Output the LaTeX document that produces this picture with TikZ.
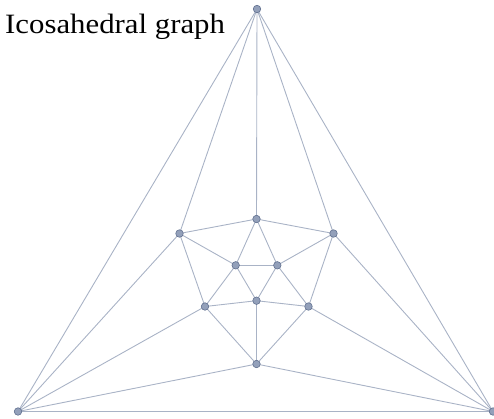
\documentclass[tikz,border=0pt]{standalone}
\usepackage{fontspec}
\setmainfont{Liberation Serif}
\definecolor{edgecol}{HTML}{A9B3C6}
\definecolor{vfill}{HTML}{93A0BA}
\definecolor{vdraw}{HTML}{627190}
\begin{document}
\begin{tikzpicture}[x=1pt,y=-1pt,
  vtx/.style={circle,fill=vfill,draw=vdraw,line width=0.6pt,inner sep=0pt,minimum size=7.5pt},
  edge/.style={draw=edgecol,line width=0.9pt}]
\useasboundingbox (0,0) rectangle (494,418);
\node[anchor=base west,inner sep=0pt] (title) at (5,33) {\scalebox{1.1}[1]{\fontsize{28}{30}\selectfont Icosahedral graph}};
\coordinate (pT) at (257,9);
\coordinate (pBL) at (18,411.5);
\coordinate (pBR) at (493,411.5);
\coordinate (pM1) at (256.5,219);
\coordinate (pM2) at (179.5,233.5);
\coordinate (pM3) at (333.5,233.5);
\coordinate (pM4) at (205,306.5);
\coordinate (pM5) at (308.5,306.5);
\coordinate (pM6) at (256.5,364);
\coordinate (pI1) at (235.7,265.3);
\coordinate (pI2) at (277.3,265.3);
\coordinate (pI3) at (256.5,300.7);
\foreach \a/\b in {T/BL,T/BR,T/M1,T/M2,T/M3,BL/BR,BL/M2,BL/M4,BL/M6,BR/M3,BR/M5,BR/M6,
  M1/M2,M1/M3,M1/I1,M1/I2,M2/I1,M2/M4,M3/I2,M3/M5,M4/I1,M4/I3,M4/M6,M5/I2,M5/I3,M5/M6,
  M6/I3,I1/I2,I1/I3,I2/I3}
  \draw[edge] (p\a) -- (p\b);
\foreach \v in {T,BL,BR,M1,M2,M3,M4,M5,M6,I1,I2,I3}
  \node[vtx] (\v) at (p\v) {};
\end{tikzpicture}
\end{document}
